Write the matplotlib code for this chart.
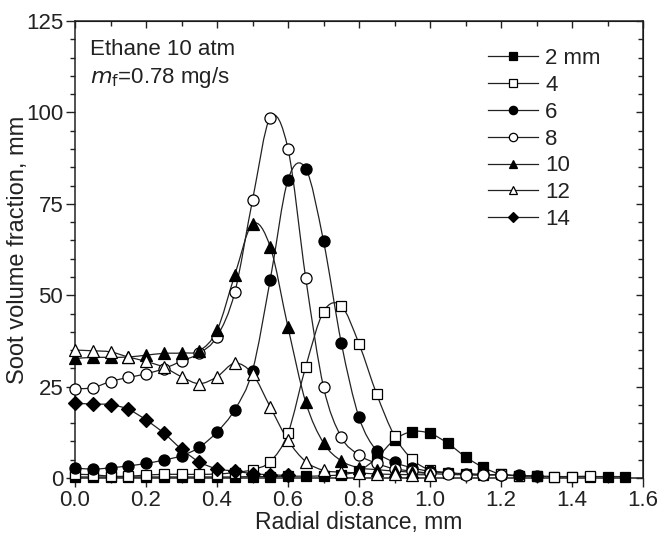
import matplotlib
matplotlib.use('Agg')
import matplotlib.pyplot as plt
from matplotlib.lines import Line2D
from matplotlib.path import Path
from matplotlib.patches import PathPatch
import matplotlib.ticker as tkr

plt.rcParams['font.family'] = ['Liberation Sans', 'DejaVu Sans']

# DATA

r = [0.00, 0.05, 0.10, 0.15, 0.20, 0.25, 0.30, 0.35, 0.40, 0.45, 0.50,
     0.55, 0.60, 0.65, 0.70, 0.75, 0.80, 0.85, 0.90, 0.95, 1.00, 1.05,
     1.10, 1.15, 1.20, 1.25, 1.30, 1.35, 1.40, 1.45, 1.50, 1.55]

fv_2mm = [0.3, 0.3, 0.3, 0.3, 0.3, 0.3, 0.3, 0.3, 0.3, 0.3, 0.4, 0.4, 0.5,
          0.5, 0.6, 0.9, 2.0, 5.5, 10.5, 12.7, 12.2, 9.5, 5.8, 2.9, 1.0,
          0.6, 0.5, 0.4, 0.4, 0.4, 0.4, 0.4]
fv_4mm = [1.0, 0.9, 0.5, 0.5, 0.8, 1.0, 1.0, 1.0, 1.1, 1.5, 2.3, 4.5, 12.3,
          30.5, 45.5, 47.1, 36.7, 22.9, 11.5, 5.1, 2.2, 1.5, 1.0, 0.8, 1.0,
          0.6, 0.5, 0.4, 0.4, 0.5]
fv_6mm = [2.8, 2.4, 2.8, 3.3, 4.0, 4.9, 6.1, 8.4, 12.6, 18.7, 29.4, 54.3,
          81.6, 84.6, 64.8, 37.0, 16.6, 7.4, 4.3, 2.8, 1.8, 1.4, 1.2, 1.0,
          0.8, 0.7, 0.6]
fv_8mm = [24.4, 24.7, 26.4, 27.5, 28.5, 29.9, 32.0, 34.1, 38.7, 50.8, 76.0,
          98.6, 90.0, 54.6, 24.9, 11.2, 6.3, 4.0, 2.5, 1.9, 1.3, 1.0, 0.9,
          0.9, 0.9]
fv_10mm = [32.7, 33.0, 33.0, 33.1, 33.6, 34.1, 34.2, 34.8, 40.4, 55.5, 69.5,
           63.2, 41.2, 20.7, 9.6, 4.7, 2.8, 2.3, 1.9, 1.6, 1.2]
fv_12mm = [35.0, 34.8, 34.5, 33.1, 31.9, 30.3, 27.7, 25.8, 27.7, 31.4, 28.5,
           19.4, 10.3, 4.5, 2.1, 1.6, 1.4, 1.1, 1.0, 0.9, 0.9]
fv_14mm = [20.5, 20.2, 20.1, 18.8, 15.9, 12.3, 7.9, 4.4, 2.5, 1.9, 1.2, 0.9,
           0.7]

labels = ['2 mm', '4', '6', '8', '10', '12', '14']
series = [fv_2mm, fv_4mm, fv_6mm, fv_8mm, fv_10mm, fv_12mm, fv_14mm]

# STYLE

markers = ['s', 's', 'o', 'o', '^', '^', 'D']
fills = ['black', 'white', 'black', 'white', 'black', 'white', 'black']
sizes = [7, 7, 8, 8, 8.5, 8.5, 7]
FS = 16
INK = '#222222'


def smooth_path(xs, ys):
    """ Catmull-Rom curve through the points, as a bezier Path. """
    pts = list(zip(xs, ys))
    verts = [pts[0]]
    codes = [Path.MOVETO]
    n = len(pts)
    for i in range(n - 1):
        p0 = pts[max(i - 1, 0)]
        p1 = pts[i]
        p2 = pts[i + 1]
        p3 = pts[min(i + 2, n - 1)]
        c1 = (p1[0] + (p2[0] - p0[0]) / 6, p1[1] + (p2[1] - p0[1]) / 6)
        c2 = (p2[0] - (p3[0] - p1[0]) / 6, p2[1] - (p3[1] - p1[1]) / 6)
        verts += [c1, c2, p2]
        codes += [Path.CURVE4] * 3
    return Path(verts, codes)


# PLOT

fig = plt.figure(figsize=(6.57, 5.35), dpi=100)
ax = fig.add_axes([0.1142, 0.1065, 0.8645, 0.8542])

handles = []
for i, (vals, lbl) in enumerate(zip(series, labels)):
    xs = r[:len(vals)]
    ax.add_patch(PathPatch(smooth_path(xs, vals), facecolor='none',
                           edgecolor=INK, linewidth=0.9, zorder=2))
    ax.plot(xs, vals, linestyle='none', marker=markers[i],
            markersize=sizes[i], markerfacecolor=fills[i],
            markeredgecolor='black', markeredgewidth=0.9, zorder=3 + i,
            clip_on=False)
    handles.append(Line2D([], [], color=INK, linewidth=0.9,
                          marker=markers[i], markersize=sizes[i] * 0.75,
                          markerfacecolor=fills[i], markeredgecolor='black',
                          markeredgewidth=0.9))

ax.set_xlim(0, 1.6)
ax.set_ylim(0, 125)
ax.xaxis.set_major_locator(tkr.MultipleLocator(0.2))
ax.xaxis.set_minor_locator(tkr.MultipleLocator(0.1))
ax.yaxis.set_major_locator(tkr.MultipleLocator(25))
ax.yaxis.set_minor_locator(tkr.MultipleLocator(5))
ax.xaxis.set_major_formatter(tkr.FormatStrFormatter('%.1f'))

ax.tick_params(which='both', direction='out', top=False, right=False,
               width=1, labelsize=FS, colors=INK)
ax.tick_params(which='major', length=6.5, pad=2)
ax.tick_params(which='minor', length=3.3)
for sp in ax.spines.values():
    sp.set_linewidth(1.1)
    sp.set_color(INK)

# mirrored ticks on top/right point inwards
top = ax.secondary_xaxis('top')
top.xaxis.set_major_locator(tkr.MultipleLocator(0.2))
top.xaxis.set_minor_locator(tkr.MultipleLocator(0.1))
top.tick_params(which='both', direction='in', labeltop=False, width=1,
                colors=INK)
top.tick_params(which='major', length=5)
top.tick_params(which='minor', length=3.3)
right = ax.secondary_yaxis('right')
right.yaxis.set_major_locator(tkr.MultipleLocator(25))
right.yaxis.set_minor_locator(tkr.MultipleLocator(5))
right.tick_params(which='both', direction='in', labelright=False, width=1,
                  colors=INK)
right.tick_params(which='major', length=5)
right.tick_params(which='minor', length=3.3)

ax.set_xlabel('Radial distance, mm', fontsize=16.5, labelpad=0, color=INK)
ax.set_ylabel('Soot volume fraction, mm', fontsize=17, labelpad=-2,
              color=INK)

ax.text(0.026, 0.926, 'Ethane 10 atm', transform=ax.transAxes,
        fontsize=FS, va='baseline', color=INK)
ax.text(0.026, 0.864, r'$m_\mathrm{f}$=0.78 mg/s', transform=ax.transAxes,
        fontsize=FS, va='baseline', color=INK)

lg = ax.legend(handles, labels, loc='upper right', frameon=False,
               fontsize=FS, handlelength=2.25, handletextpad=0.3,
               labelspacing=0.26, borderaxespad=0.0,
               bbox_to_anchor=(0.941, 0.96))
for t in lg.get_texts():
    t.set_color(INK)

fig.savefig('out.png', dpi=100)
